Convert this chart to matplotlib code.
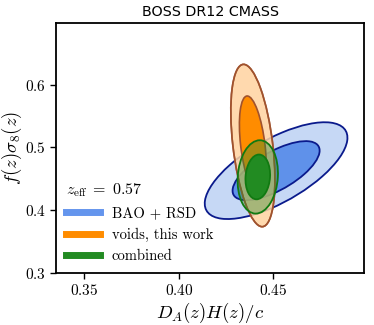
import numpy as np
import matplotlib
matplotlib.use("Agg")
import matplotlib.pyplot as plt
from matplotlib.patches import Ellipse
from matplotlib.lines import Line2D
from matplotlib.ticker import FuncFormatter

plt.rcParams['mathtext.fontset'] = 'cm'

# Gaussian approximations of the constraints: (mean x, mean y, sigma x, sigma y, rho)
bao_rsd = (0.4515, 0.463, 0.0152, 0.031, 0.68)
voids = (0.4392, 0.503, 0.0047, 0.052, -0.42)
combined = (0.4418, 0.453, 0.0043, 0.0235, 0.1)

labels = ['BAO + RSD', 'voids, this work', 'combined']
xticks = [0.35, 0.40, 0.45]
yticks = [0.3, 0.4, 0.5, 0.6]

chi2 = [6.18, 2.30]  # 95% and 68% for 2 params


def ellipse(p, k, **kw):
    mx, my, sx, sy, r = p
    cov = np.array([[sx**2, r*sx*sy], [r*sx*sy, sy**2]])
    vals, vecs = np.linalg.eigh(cov)
    ang = np.degrees(np.arctan2(vecs[1, 1], vecs[0, 1]))
    return Ellipse((mx, my), 2*np.sqrt(k*vals[1]), 2*np.sqrt(k*vals[0]),
                   angle=ang, **kw)


fig = plt.figure(figsize=(3.74, 3.25), dpi=100)
ax = fig.add_axes([0.150, 0.160, 0.823, 0.769])

# BAO + RSD
ax.add_patch(ellipse(bao_rsd, chi2[0], fc='#c6d8f5', ec='#0a1a8c', lw=1.3))
ax.add_patch(ellipse(bao_rsd, chi2[1], fc='#5f91ea', ec='#0a1a8c', lw=1.3))
# voids
ax.add_patch(ellipse(voids, chi2[0], fc='#ffd3a0', ec='#a0522d', lw=1.2, alpha=0.85))
ax.add_patch(ellipse(voids, chi2[0], fc='none', ec='#a0522d', lw=1.2))
ax.add_patch(ellipse(voids, chi2[1], fc='#ff8c00', ec='#a0522d', lw=1.2))
# combined
ax.add_patch(ellipse(combined, chi2[0], fc='#2e8b2e', ec='none', alpha=0.4))
ax.add_patch(ellipse(combined, chi2[0], fc='none', ec='#117a11', lw=1.3))
ax.add_patch(ellipse(combined, chi2[1], fc='#228b22', ec='#117a11', lw=1.3))

ax.set_xlim(0.335, 0.498)
ax.set_ylim(0.3, 0.698)
ax.set_xticks(xticks)
ax.set_yticks(yticks)
ax.xaxis.set_major_formatter(FuncFormatter(lambda v, p: '$%.2f$' % v))
ax.yaxis.set_major_formatter(FuncFormatter(lambda v, p: '$%.1f$' % v))
ax.tick_params(labelsize=11, length=4, width=1)
for s in ax.spines.values():
    s.set_linewidth(1.3)

ax.set_xlabel('$D_A(z)H(z)/c$', fontsize=13.5, labelpad=2)
ax.set_ylabel('$f(z)\\sigma_8(z)$', fontsize=13.5)
ax.yaxis.set_label_coords(-0.105, 0.5)
ax.set_title('BOSS DR12 CMASS', fontsize=10.3, pad=5)

handles = [Line2D([], [], color=c, lw=5) for c in ['#6495ed', '#ff8c00', '#228b22']]
leg = ax.legend(handles, labels, loc='lower left', frameon=False,
                title='$z_{\\rm eff}\\;=\\;0.57$', prop={'family': 'cmr10', 'size': 10.5},
                title_fontsize=11.5, handlelength=2.3, borderaxespad=0.3)
leg._legend_box.align = 'left'

fig.savefig('out.png', dpi=100)
